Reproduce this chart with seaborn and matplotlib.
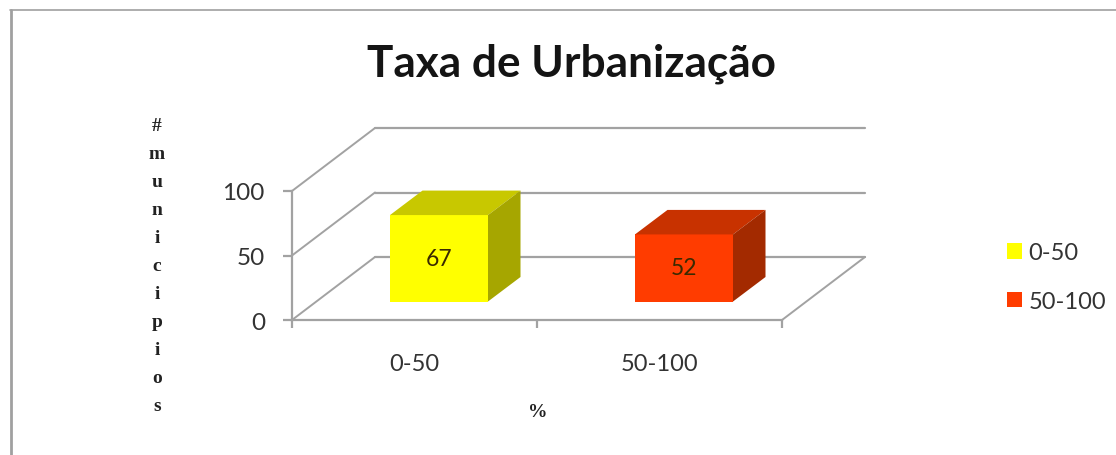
import matplotlib
matplotlib.use("Agg")
import matplotlib.pyplot as plt
from matplotlib.lines import Line2D
from matplotlib.patches import Polygon
from matplotlib.transforms import ScaledTranslation
import seaborn as sns

categories = ["0-50", "50-100"]
values = [67, 52]
front_colors = ["#FFFF00", "#FF3C00"]
top_colors = ["#C8C800", "#C83200"]
side_colors = ["#A6A600", "#A32A00"]
y_ticks = [0, 50, 100]
title = "Taxa de Urbanização"
y_label = "#\nm\nu\nn\ni\nc\ni\np\ni\no\ns"
x_label = "%"

W, H, DPI = 1116, 456, 100
GRAY = "#A2A2A2"
TEXT = "#333333"
SANS = "Lato"
SERIF = "Liberation Serif"

sns.set_theme(style="white", rc={"font.family": SANS})
fig = plt.figure(figsize=(W / DPI, H / DPI), dpi=DPI, facecolor="white")


def px_axes(x0, x1, ytop, ybot):
    return fig.add_axes([x0 / W, 1 - ybot / H, (x1 - x0) / W, (ybot - ytop) / H])


def shifted(base, dx, dy):
    return base + ScaledTranslation(dx / DPI, dy / DPI, fig.dpi_scale_trans)


# chart frame (only top and left edges are visible in the crop)
fig.add_artist(Line2D([11 / W, 11 / W], [0, 1 - 10.5 / H],
                      transform=fig.transFigure, color="#A0A0A0", lw=2.0))
fig.add_artist(Line2D([10 / W, 1], [1 - 10.5 / H, 1 - 10.5 / H],
                      transform=fig.transFigure, color="#A0A0A0", lw=1.2))

# --- axis box with walls ---
ax = px_axes(292, 782, 192, 321)
ax.set_xlim(-0.5, 1.5)
ax.set_ylim(0, 100)
ax.patch.set_alpha(0)
for name in ["top", "right"]:
    ax.spines[name].set_visible(False)
for name in ["left", "bottom"]:
    ax.spines[name].set_color(GRAY)
    ax.spines[name].set_linewidth(1.6)

DEPTH = (83, 63)
back = shifted(ax.transData, *DEPTH)
for v in y_ticks:
    ax.plot([-0.5, 1.5], [v, v], transform=back, color=GRAY, lw=1.6, clip_on=False, zorder=1)
    d = ax.transData.transform((-0.5, v))
    ax.add_artist(Line2D([d[0], d[0] + DEPTH[0]], [d[1], d[1] + DEPTH[1]],
                         transform=None, color=GRAY, lw=1.4, clip_on=False))
d = ax.transData.transform((1.5, 0))
ax.add_artist(Line2D([d[0], d[0] + DEPTH[0]], [d[1], d[1] + DEPTH[1]],
                     transform=None, color=GRAY, lw=1.4, clip_on=False))

ax.set_yticks(y_ticks)
ax.set_yticklabels([str(v) for v in y_ticks], fontsize=17.5, color=TEXT)
ax.set_xticks([0, 1])
ax.set_xticklabels(categories, fontsize=17, color=TEXT)
ax.set_xticks([-0.5, 0.5, 1.5], minor=True)
ax.tick_params(axis="y", left=True, length=6.5, width=1.6, color=GRAY, pad=13)
ax.tick_params(axis="x", which="major", bottom=False, length=0, pad=24)
ax.tick_params(axis="x", which="minor", bottom=True, length=6, width=1.6, color=GRAY)

# --- bars, on a transparent layer shifted onto the chart floor ---
SHIFT = (24.5, 18.5)
ax_bars = px_axes(292 + SHIFT[0], 782 + SHIFT[0], 192 - SHIFT[1], 321 - SHIFT[1])
sns.barplot(x=categories, y=values, hue=categories, palette=front_colors, width=0.4,
            dodge=False, saturation=1, legend=True, linewidth=0, ax=ax_bars, zorder=3)
ax_bars.set_xlim(-0.5, 1.5)
ax_bars.set_ylim(0, 100)
ax_bars.axis("off")

BAR_DEPTH = (32.5, 24.5)
bars = [b for c in ax_bars.containers for b in c]
for bar, top, side in zip(bars, top_colors, side_colors):
    x0, x1 = bar.get_x(), bar.get_x() + bar.get_width()
    h = bar.get_height()
    to_px = ax_bars.transData.transform
    a, b, c = to_px((x0, h)), to_px((x1, h)), to_px((x1, 0))
    dv = BAR_DEPTH
    ax_bars.add_patch(Polygon([a, b, b + dv, a + dv], closed=True, transform=None,
                              facecolor=top, edgecolor="none", clip_on=False, zorder=3))
    ax_bars.add_patch(Polygon([b, c, c + dv, b + dv], closed=True, transform=None,
                              facecolor=side, edgecolor="none", clip_on=False, zorder=3))
for c in ax_bars.containers:
    ax_bars.bar_label(c, label_type="center", fontsize=16.5, color="#3A2A00")

sns.move_legend(ax_bars, loc="center left", bbox_to_anchor=(1007 / W, 1 - 278 / H),
                bbox_transform=fig.transFigure, frameon=False, title=None,
                fontsize=17, labelcolor=TEXT, handlelength=0.62, handleheight=0.62,
                labelspacing=1.17, handletextpad=0.3, borderpad=0, borderaxespad=0)

# --- texts ---
fig.text(571.5 / W, 1 - 64 / H, title, ha="center", va="center", fontsize=31.8,
         fontweight="bold", color="#141414")
fig.text(157 / W, 1 - 266.5 / H, y_label, ha="center", va="center", family=SERIF,
         fontweight="bold", fontsize=14, linespacing=1.84, color="#222222")
fig.text(538 / W, 1 - 413 / H, x_label, ha="center", va="center", family=SERIF,
         fontweight="bold", fontsize=14, color="#222222")

fig.savefig("out.png", dpi=DPI, facecolor="white")
